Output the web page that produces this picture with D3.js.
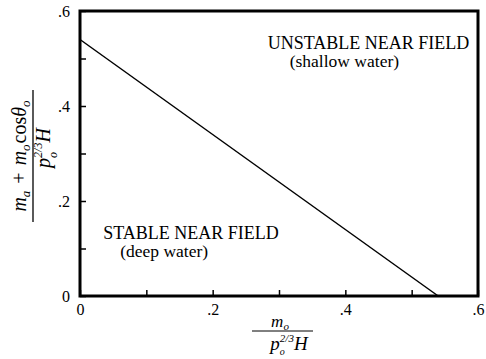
<!DOCTYPE html>
<html>
<head>
<meta charset="utf-8">
<script src="https://cdn.jsdelivr.net/npm/d3@7"></script>
<style>
  body { margin: 0; background: #fff; }
  text { font-family: "Liberation Serif", "Times New Roman", serif; fill: #000; }
</style>
</head>
<body>
<div id="chart"></div>
<script>
// data
const lineX = [0, 0.54];
const lineY = [0.54, 0];
const majorTicks = [0, 0.2, 0.4, 0.6];
const minorTicks = [0.1, 0.3, 0.5];
const tickLabels = ["0", ".2", ".4", ".6"];
const regionTitles = ["UNSTABLE NEAR FIELD", "STABLE NEAR FIELD"];
const regionSubs = ["(shallow water)", "(deep water)"];
const regionX = [0.283, 0.035];
const regionY = [0.519, 0.12];

const margin = {top: 11, right: 8, bottom: 63, left: 80},
    width = 486 - margin.left - margin.right,
    height = 359 - margin.top - margin.bottom;

const svg = d3.select("#chart")
  .append("svg")
    .attr("width", 486)
    .attr("height", 359)
  .append("g")
    .attr("transform", `translate(${margin.left},${margin.top})`);

const x = d3.scaleLinear().domain([0, 0.6]).range([0, width]);
const y = d3.scaleLinear().domain([0, 0.6]).range([height, 0]);

const fmt = d => {
  const i = majorTicks.indexOf(d);
  return i >= 0 ? tickLabels[i] : "";
};

// axes: ticks point inward
const xAxis = svg.append("g")
    .attr("font-family", "Liberation Serif")
    .attr("transform", `translate(0,${height})`)
    .call(d3.axisBottom(x).tickValues(majorTicks.concat(minorTicks))
      .tickSize(-6).tickFormat(fmt));
xAxis.attr("font-family", "Liberation Serif");
xAxis.select(".domain").remove();
xAxis.selectAll(".tick line").attr("stroke-width", 1.5);
xAxis.selectAll(".tick text").attr("y", 8)
    .style("font-size", "16px").style("font-family", "Liberation Serif");

const yAxis = svg.append("g")
    .call(d3.axisLeft(y).tickValues(majorTicks.concat(minorTicks))
      .tickSize(-6).tickFormat(fmt));
yAxis.attr("font-family", "Liberation Serif");
yAxis.select(".domain").remove();
yAxis.selectAll(".tick line").attr("stroke-width", 1.5);
yAxis.selectAll(".tick text").attr("x", -10)
    .style("font-size", "16px").style("font-family", "Liberation Serif");

// frame
svg.append("rect")
    .attr("x", 0).attr("y", 0)
    .attr("width", width).attr("height", height)
    .attr("fill", "none")
    .attr("stroke", "#000")
    .attr("stroke-width", 3);

// boundary line
const pts = lineX.map((v, i) => [v, lineY[i]]);
svg.append("path")
    .datum(pts)
    .attr("fill", "none")
    .attr("stroke", "#000")
    .attr("stroke-width", 1.5)
    .attr("d", d3.line().x(d => x(d[0])).y(d => y(d[1])));

// region labels
regionTitles.forEach((t, i) => {
  svg.append("text")
      .attr("x", x(regionX[i])).attr("y", y(regionY[i]))
      .style("font-size", "18px")
      .text(t);
  svg.append("text")
      .attr("x", x(regionX[i]) + (i === 0 ? 22 : 17)).attr("y", y(regionY[i]) + 18)
      .style("font-size", "17.5px")
      .text(regionSubs[i]);
});

// lay out pieces of math left to right, then centre the row on 0
function mathRow(g, pieces, base) {
  let cx = 0;
  pieces.forEach(p => {
    const t = g.append("text")
        .attr("x", cx + (p.dx || 0))
        .attr("y", p.dy || 0)
        .style("font-size", (p.size || base) + "px")
        .style("font-style", p.italic ? "italic" : "normal")
        .text(p.t);
    if (!p.stack) cx += t.node().getComputedTextLength() + (p.dx || 0) + (p.gap || 0);
  });
  g.attr("transform", `translate(${-cx / 2},0)`);
  return cx;
}

// y axis label (rotated fraction)
const yl = svg.append("g")
    .attr("transform", `translate(${33 - margin.left},${156 - margin.top}) rotate(-90)`);
const yNum = yl.append("g").attr("transform", "translate(0,-7)").append("g");
mathRow(yNum, [
  {t: "m", italic: true},
  {t: "a", italic: true, size: 13, dy: 4},
  {t: "+", dx: 7, gap: 7},
  {t: "m", italic: true},
  {t: "o", italic: true, size: 13, dy: 4, gap: 1},
  {t: "cos"},
  {t: "θ", italic: true},
  {t: "o", italic: true, size: 13, dy: 4}
], 20);
yl.append("line").attr("x1", -66).attr("x2", 66)
    .attr("stroke", "#000").attr("stroke-width", 1.3);
const yDen = yl.append("g").attr("transform", "translate(8,17)").append("g");
mathRow(yDen, [
  {t: "p", italic: true},
  {t: "o", italic: true, size: 12, dy: 7, stack: true},
  {t: "2/3", italic: true, size: 12, dy: -8},
  {t: "H", italic: true}
], 20);

// x axis label (fraction)
const xl = svg.append("g")
    .attr("transform", `translate(${282 - margin.left},${331 - margin.top})`);
const xNum = xl.append("g").attr("transform", "translate(-2,-4)").append("g");
mathRow(xNum, [
  {t: "m", italic: true},
  {t: "o", italic: true, size: 11, dy: 3}
], 17);
xl.append("line").attr("x1", -30).attr("x2", 31)
    .attr("stroke", "#000").attr("stroke-width", 1);
const xDen = xl.append("g").attr("transform", "translate(7,19)").append("g");
mathRow(xDen, [
  {t: "p", italic: true},
  {t: "o", italic: true, size: 10, dy: 5, stack: true},
  {t: "2/3", italic: true, size: 11, dy: -8},
  {t: "H", italic: true}
], 19);
</script>
</body>
</html>
